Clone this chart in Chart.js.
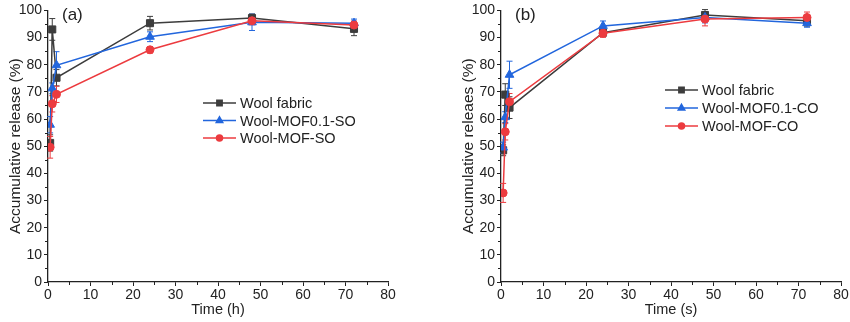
<!DOCTYPE html>
<html>
<head>
<meta charset="utf-8">
<title>Accumulative release</title>
<script src="https://cdn.jsdelivr.net/npm/chart.js@4.4.1/dist/chart.umd.min.js"></script>
<style>
  body { margin: 0; background: #fff; }
  #wrap { position: relative; width: 850px; height: 322px; }
  #chartA { position: absolute; left: 0; top: 0; }
  #chartB { position: absolute; left: 420px; top: 0; }
</style>
</head>
<body>
<div id="wrap">
  <canvas id="chartA" width="420" height="322"></canvas>
  <canvas id="chartB" width="430" height="322"></canvas>
</div>
<script>
// (a) sampling times in hours
const timeA = [0.5, 1, 2, 24, 48, 72];
const woolA = [51.2, 93.0, 75.2, 95.3, 97.2, 93.2];
const woolErrA = [3, 4, 3, 2.5, 1.5, 2.5];
const mof01A = [57.9, 71.3, 79.8, 90.3, 95.6, 95.3];
const mof01ErrA = [3, 2, 5, 1.8, 3, 1.5];
const mofA = [49.6, 65.6, 69.1, 85.5, 96.2, 94.6];
const mofErrA = [4, 3, 3, 1.2, 1.5, 1.5];

// (b) sampling times in seconds
const timeB = [0.5, 1, 2, 24, 48, 72];
const woolB = [48.5, 69.0, 64.2, 91.8, 98.3, 96.2];
const woolErrB = [2, 4, 4, 1.5, 2, 2];
const mof01B = [49.5, 60.7, 76.3, 94.3, 97.4, 95.3];
const mof01ErrB = [2, 2, 5, 1.8, 2, 1.5];
const mofB = [32.8, 55.3, 66.4, 91.6, 96.8, 97.4];
const mofErrB = [3.5, 3, 3, 1.5, 2.5, 2];

const namesA = ['Wool fabric', 'Wool-MOF0.1-SO', 'Wool-MOF-SO'];
const namesB = ['Wool fabric', 'Wool-MOF0.1-CO', 'Wool-MOF-CO'];

const yTicks = [0, 10, 20, 30, 40, 50, 60, 70, 80, 90, 100];
const xTicks = [0, 10, 20, 30, 40, 50, 60, 70, 80];

const BLACK = '#3d3d3d', BLUE = '#2266dd', RED = '#ec3b3f';
const INK = '#222';

Chart.defaults.font.family = "Arial, 'Liberation Sans', sans-serif";

function series(label, xs, ys, errs, color, style, radius, order) {
  return {
    label: label,
    data: xs.map((x, i) => ({ x: x, y: ys[i] })),
    errors: errs,
    borderColor: color,
    backgroundColor: color,
    borderWidth: 1.5,
    pointStyle: style,
    pointRadius: radius,
    pointBorderWidth: 1,
    legendRadius: radius * 0.75,
    order: order
  };
}

// error bars with small caps, under the lines
const errorBars = {
  id: 'errorBars',
  beforeDatasetsDraw(chart) {
    const { ctx, scales: { x, y } } = chart;
    chart.data.datasets.forEach(ds => {
      ctx.save();
      ctx.strokeStyle = ds.borderColor;
      ctx.lineWidth = 1;
      ds.data.forEach((p, i) => {
        const e = ds.errors[i];
        const px = x.getPixelForValue(p.x);
        const top = y.getPixelForValue(p.y + e);
        const bot = y.getPixelForValue(p.y - e);
        ctx.beginPath();
        ctx.moveTo(px, top); ctx.lineTo(px, bot);
        ctx.moveTo(px - 3, top); ctx.lineTo(px + 3, top);
        ctx.moveTo(px - 3, bot); ctx.lineTo(px + 3, bot);
        ctx.stroke();
      });
      ctx.restore();
    });
  }
};

// minor ticks halfway between labelled ticks
const minorTicks = {
  id: 'minorTicks',
  afterDraw(chart) {
    const { ctx, scales: { x, y }, chartArea } = chart;
    ctx.save();
    ctx.strokeStyle = INK;
    ctx.lineWidth = 1;
    ctx.beginPath();
    for (let v = 5; v < 80; v += 10) {
      const px = Math.round(x.getPixelForValue(v)) + 0.5;
      ctx.moveTo(px, chartArea.bottom); ctx.lineTo(px, chartArea.bottom + 3);
    }
    for (let v = 5; v < 100; v += 10) {
      const py = Math.round(y.getPixelForValue(v)) + 0.5;
      ctx.moveTo(chartArea.left, py); ctx.lineTo(chartArea.left - 3, py);
    }
    ctx.stroke();
    ctx.restore();
  }
};

// line + marker legend and the panel tag
const panelDecor = {
  id: 'panelDecor',
  afterDraw(chart, args, opts) {
    const ctx = chart.ctx;
    ctx.save();
    ctx.fillStyle = INK;
    ctx.font = "17px Arial, 'Liberation Sans', sans-serif";
    ctx.textBaseline = 'middle';
    ctx.textAlign = 'left';
    ctx.fillText(opts.tag, opts.tagX, opts.tagY);

    ctx.font = "14.5px Arial, 'Liberation Sans', sans-serif";
    chart.data.datasets.forEach((ds, i) => {
      const yy = opts.y + i * opts.gap;
      ctx.strokeStyle = ds.borderColor;
      ctx.lineWidth = 1.5;
      ctx.beginPath();
      ctx.moveTo(opts.x, yy); ctx.lineTo(opts.x + 33, yy);
      ctx.stroke();
      ctx.fillStyle = ds.backgroundColor;
      Chart.helpers.drawPoint(ctx, {
        pointStyle: ds.pointStyle, radius: ds.legendRadius, rotation: 0, borderWidth: 1
      }, opts.x + 16.5, yy);
      ctx.fillStyle = INK;
      ctx.fillText(ds.label, opts.x + 37, yy + 1);
    });
    ctx.restore();
  }
};

function axes(xTitle, yTitle) {
  const grid = { drawOnChartArea: false, tickLength: 4, tickColor: INK, tickWidth: 1 };
  const border = { color: INK, width: 1.3 };
  return {
    x: {
      type: 'linear', min: 0, max: 80,
      afterBuildTicks: s => { s.ticks = xTicks.map(v => ({ value: v })); },
      ticks: { color: INK, font: { size: 14 }, padding: 1, maxRotation: 0 },
      grid: grid, border: border,
      title: { display: true, text: xTitle, color: INK, font: { size: 14.5 }, padding: { top: 0, bottom: 3 } },
      afterFit: s => { s.height = 40; }
    },
    y: {
      min: 0, max: 100,
      afterBuildTicks: s => { s.ticks = yTicks.map(v => ({ value: v })); },
      ticks: { color: INK, font: { size: 14 }, padding: 2 },
      grid: grid, border: border,
      title: { display: true, text: yTitle, color: INK, font: { size: 15.5 }, padding: { top: 6, bottom: 0 } },
      afterFit: s => { s.width = 48; }
    }
  };
}

function makeChart(id, sets, xTitle, yTitle, padding, decor) {
  return new Chart(document.getElementById(id), {
    type: 'line',
    data: { datasets: sets },
    options: {
      responsive: false,
      animation: false,
      layout: { padding: padding },
      scales: axes(xTitle, yTitle),
      plugins: {
        legend: { display: false },
        tooltip: { enabled: false },
        panelDecor: decor
      }
    },
    plugins: [errorBars, minorTicks, panelDecor]
  });
}

makeChart('chartA', [
  series(namesA[0], timeA, woolA, woolErrA, BLACK, 'rect', 5, 3),
  series(namesA[1], timeA, mof01A, mof01ErrA, BLUE, 'triangle', 5, 2),
  series(namesA[2], timeA, mofA, mofErrA, RED, 'circle', 4, 1)
], 'Time (h)', 'Accumulative release (%)',
  { left: 0, top: 8, right: 32, bottom: 0 },
  { tag: '(a)', tagX: 62, tagY: 15, x: 203, y: 103, gap: 17.5 });

makeChart('chartB', [
  series(namesB[0], timeB, woolB, woolErrB, BLACK, 'rect', 5, 3),
  series(namesB[1], timeB, mof01B, mof01ErrB, BLUE, 'triangle', 5, 2),
  series(namesB[2], timeB, mofB, mofErrB, RED, 'circle', 4, 1)
], 'Time (s)', 'Accumulative releaes (%)',
  { left: 33, top: 8, right: 9, bottom: 0 },
  { tag: '(b)', tagX: 95, tagY: 15, x: 245, y: 90, gap: 18 });
</script>
</body>
</html>
